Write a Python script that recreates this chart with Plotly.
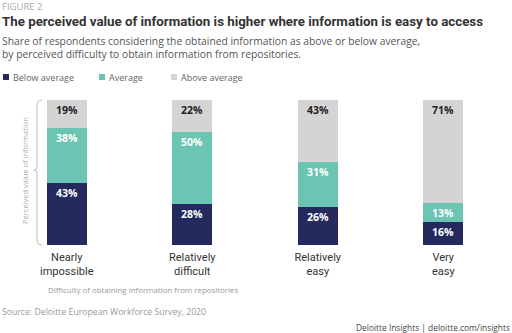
import plotly.graph_objects as go

categories = ["Nearly<br>impossible", "Relatively<br>difficult", "Relatively<br>easy", "Very<br>easy"]
series_names = ["Below average", "Average", "Above average"]
below = [43, 28, 26, 16]
average = [38, 50, 31, 13]
above = [19, 22, 43, 71]

colors = ["#242a5d", "#6cc5b2", "#d4d4d4"]
text_colors = ["#ffffff", "#ffffff", "#222222"]

W, H = 512, 333
def px(x): return x / W
def py(y): return 1 - y / H

BODY = "Open Sans, DejaVu Sans, sans-serif"
COND = "Roboto, Liberation Sans, sans-serif"

fig = go.Figure()
for name, vals, c, tc in zip(series_names, [below, average, above], colors, text_colors):
    fig.add_trace(go.Bar(
        x=categories, y=vals, name=name, marker=dict(color=c, line=dict(width=0)),
        width=0.32, text=[f"{v}%" for v in vals], textposition="inside",
        insidetextanchor="end", textangle=0,
        textfont=dict(family=BODY, size=10.5, color=tc, weight="bold"),
        hoverinfo="skip", showlegend=False,
    ))

def ann(x, y, text, font, **kw):
    d = dict(xref="paper", yref="paper", x=px(x), y=py(y), text=text, font=font,
             showarrow=False, xanchor="left", yanchor="middle")
    d.update(kw)
    return d

annotations = [
    ann(0, 6, "FIGURE 2", dict(family=BODY, size=9.5, color="#aaaaaa")),
    ann(0, 22, "<b>The perceived value of information is higher where information is easy to access</b>",
        dict(family=COND, size=13.3, color="#333333")),
    ann(0, 47, "Share of respondents considering the obtained information as above or below average,<br>by perceived difficulty to obtain information from repositories.",
        dict(family=BODY, size=10.3, color="#555555"), align="left"),
    ann(25, 171, "Perceived value of information", dict(family=BODY, size=7.5, color="#aaaaaa"),
        textangle=-90, xanchor="center"),
    ann(46, 290, "Difficulty of obtaining information from repositories",
        dict(family=BODY, size=7.9, color="#999999")),
    ann(0, 312, "Source: Deloitte European Workforce Survey, 2020",
        dict(family=BODY, size=8.7, color="#999999")),
    ann(512, 327, "Deloitte Insights | deloitte.com/insights",
        dict(family=BODY, size=8.4, color="#444444"), xanchor="right"),
]

shapes = []
legend_x = [3, 99, 171]
for lx, name, c in zip(legend_x, series_names, colors):
    shapes.append(dict(type="rect", xref="paper", yref="paper", x0=px(lx), x1=px(lx + 6),
                       y0=py(80), y1=py(74), fillcolor=c, line=dict(width=0)))
    annotations.append(ann(lx + 8, 77, name, dict(family=BODY, size=9, color="#666666")))

# bracket
shapes.append(dict(type="path", xref="paper", yref="paper",
                   path=(f"M {px(42)} {py(100)} Q {px(37)} {py(100)} {px(37)} {py(105)} "
                         f"L {px(37)} {py(166)} Q {px(37)} {py(170)} {px(34)} {py(170)} "
                         f"Q {px(37)} {py(170)} {px(37)} {py(174)} "
                         f"L {px(37)} {py(240)} Q {px(37)} {py(245)} {px(42)} {py(245)}"),
                   line=dict(color="#bbbbbb", width=1)))

fig.update_layout(
    width=W, height=H, barmode="stack", bargap=0,
    margin=dict(l=0, r=0, t=0, b=0),
    paper_bgcolor="white", plot_bgcolor="white",
    xaxis=dict(domain=[4 / W, 506 / W], range=[-0.5, 3.5], showgrid=False, showline=False,
               zeroline=False, ticks="", ticklabelstandoff=4,
               tickfont=dict(family=COND, size=11, color="#333333", weight="normal")),
    yaxis=dict(domain=[(H - 245) / H, (H - 100) / H], range=[0, 100], visible=False),
    annotations=annotations, shapes=shapes, showlegend=False,
    uniformtext=dict(minsize=10.5, mode="show"),
)

fig.write_html("out.html")
